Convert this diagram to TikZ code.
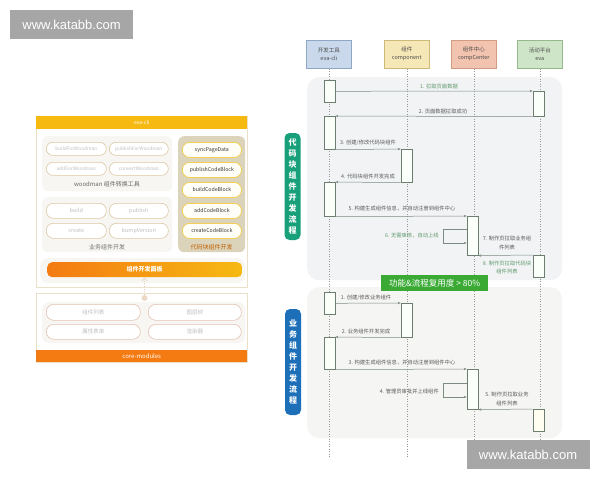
\documentclass[tikz,border=0pt]{standalone}
\usepackage{fontspec}
\setmainfont{Noto Sans CJK SC}
\newfontfamily\wmfont{Liberation Sans}
\usetikzlibrary{arrows.meta}
\newcommand\myfs[1]{\fontsize{#1}{#1}\selectfont}
\definecolor{wmgray}{HTML}{A6A6A6}
\definecolor{framec}{HTML}{EADFC8}
\definecolor{grpfill}{HTML}{F7F6F3}
\definecolor{tanbtn}{HTML}{DCC8A4}
\definecolor{cgfill}{HTML}{DCD3BB}
\definecolor{ybtn}{HTML}{F3CF55}
\definecolor{salbtn}{HTML}{E3C2B2}
\definecolor{evay}{HTML}{F6B912}
\definecolor{orng}{HTML}{F47A12}
\definecolor{reg1c}{HTML}{F2F3F5}
\definecolor{reg2c}{HTML}{F5F5F3}
\definecolor{actd}{HTML}{6D7D70}
\definecolor{msgc}{HTML}{7D8C80}
\definecolor{lblc}{HTML}{5A5A5A}
\definecolor{glblc}{HTML}{5F9A6C}
\definecolor{h1f}{HTML}{C9D8EA}\definecolor{h1d}{HTML}{8FA6C4}
\definecolor{h2f}{HTML}{F6E8B6}\definecolor{h2d}{HTML}{CDB978}
\definecolor{h3f}{HTML}{F2C3AE}\definecolor{h3d}{HTML}{D29B84}
\definecolor{h4f}{HTML}{CFE5C8}\definecolor{h4d}{HTML}{96B98D}
\definecolor{vgc}{HTML}{17A07A}
\definecolor{vbc}{HTML}{1D6FB8}
\definecolor{banc}{HTML}{3AAA35}
\begin{document}
\begin{tikzpicture}[x=1pt,y=-1pt,
  wm/.style={fill=wmgray,text=white,font=\wmfont\myfs{13},inner sep=0,minimum width=123pt,minimum height=29pt},
  nw/.style={anchor=north west,inner sep=0},
  grp/.style={nw,fill=grpfill,rounded corners=6pt},
  wbtn/.style={nw,draw=tanbtn,fill=white,rounded corners=6.5pt,line width=.6pt,text=black!25,minimum width=60pt,minimum height=13pt,font=\myfs{4.8}},
  bbtn/.style={wbtn,minimum height=15pt,rounded corners=7pt,font=\myfs{5.5}},
  cbtn/.style={nw,draw=ybtn,fill=yellow!3,line width=.8pt,rounded corners=7pt,minimum width=59pt,minimum height=15pt,text=black!80,font=\myfs{5.2}},
  mbtn/.style={nw,draw=salbtn,fill=white,line width=.6pt,rounded corners=7.5pt,minimum width=94pt,minimum height=16pt,text=black!25,font=\myfs{5.5}},
  hdr/.style={nw,draw,line width=.6pt,minimum width=45pt,minimum height=28pt,align=center,font=\fontsize{5.5}{8}\selectfont,text=black!70},
  act/.style={anchor=north,draw=actd,fill=green!2,line width=.6pt,minimum width=11pt,inner sep=0},
  msg/.style={draw=msgc,line width=.5pt,-{Stealth[length=3pt,width=2.4pt]}},
  lifeline/.style={draw=black!40,dotted,line width=.5pt},
  lbl/.style={text=lblc,font=\myfs{5.3},inner sep=0},
  glbl/.style={lbl,text=glblc},
  vlab/.style={rounded corners=5pt,text=white,font=\bfseries\fontsize{8}{11}\selectfont,align=center,minimum width=16pt,inner sep=0}
]
\useasboundingbox[fill=white] (0,0) rectangle (600,480);
% watermarks
\node[wm] (wm1) at (71.5,24.5) {www.katabb.com};
% ---------- left panel ----------
\node[nw,draw=framec,fill=white,line width=.8pt,minimum width=211pt,minimum height=171pt] (evaframe) at (36,116) {};
\node[nw,fill=evay,minimum width=211pt,minimum height=13pt,text=white,font=\myfs{5}] (evahead) at (36,116) {eva-cli};
\node[grp,minimum width=130pt,minimum height=55pt] (wgroup) at (42,136) {};
\node[wbtn] (b1) at (46,142) {buildForWoodman};
\node[wbtn,minimum width=59pt] (b2) at (109,142) {publishForWoodman};
\node[wbtn] (b3) at (46,162) {addForWoodman};
\node[wbtn,minimum width=59pt] (b4) at (109,162) {convertWoodman};
\node[text=black!60,font=\myfs{6},inner sep=0] (wlabel) at (107,184) {woodman 组件转换工具};
\node[grp,minimum width=130pt,minimum height=55pt] (bgroup) at (42,197) {};
\node[bbtn] (b5) at (46,203) {build};
\node[bbtn,minimum width=59pt] (b6) at (109,203) {publish};
\node[bbtn] (b7) at (46,223) {create};
\node[bbtn,minimum width=59pt] (b8) at (109,223) {bumpVersion};
\node[text=black!55,font=\myfs{6},inner sep=0] (blabel) at (107,247) {业务组件开发};
\node[grp,fill=cgfill,minimum width=67pt,minimum height=116pt] (cgroup) at (178,136) {};
\node[cbtn] (c1b) at (182,142) {syncPageData};
\node[cbtn] (c2b) at (182,162) {publishCodeBlock};
\node[cbtn] (c3b) at (182,182) {buildCodeBlock};
\node[cbtn] (c4b) at (182,203) {addCodeBlock};
\node[cbtn] (c5b) at (182,223) {createCodeBlock};
\node[text=orange!75!black,font=\myfs{6},inner sep=0] (clabel) at (211.5,247) {代码块组件开发};
\node[grp,rounded corners=8pt,minimum width=205pt,minimum height=25pt] (prow) at (40,258) {};
\node[nw,rounded corners=5pt,left color=orng,right color=evay,minimum width=195pt,minimum height=15pt,text=white,font=\bfseries\myfs{6}] (panelbar) at (47,262) {组件开发面板};
\node[nw,draw=framec,fill=white,line width=.8pt,minimum width=211pt,minimum height=69pt] (coreframe) at (36,293) {};
\node[grp,rounded corners=7pt,minimum width=203pt,minimum height=41pt] (cinner) at (42,302) {};
\node[mbtn] (m1) at (46,304) {组件列表};
\node[mbtn,minimum width=93pt] (m2) at (148,304) {图层树};
\node[mbtn,minimum height=15pt] (m3) at (46,324) {属性表单};
\node[mbtn,minimum width=93pt,minimum height=15pt] (m4) at (148,324) {渲染器};
\node[nw,fill=orng,minimum width=211pt,minimum height=12pt,text=white,font=\myfs{6}] (corebar) at (36,350) {core-modules};
\node[circle,fill=brown!30!white,minimum size=6pt,inner sep=0] (dotc) at (144.5,298) {};
\draw[draw=brown!35!white,dotted,line width=.7pt,-{Straight Barb[length=3pt,width=5pt]}] (dotc.north) -- (dotc.north |- panelbar.south);
% ---------- right: sequence ----------
\node[nw,fill=reg1c,rounded corners=12pt,minimum width=255pt,minimum height=203pt] (reg1) at (307,77) {};
\node[nw,fill=reg2c,rounded corners=12pt,minimum width=255pt,minimum height=151pt] (reg2) at (307,287) {};
\node[hdr,fill=h1f,draw=h1d] (h1) at (306,40) {开发工具\\eva-cli};
\node[hdr,fill=h2f,draw=h2d] (h2) at (384,40) {组件\\component};
\node[hdr,fill=h3f,draw=h3d] (h3) at (451,40) {组件中心\\compCenter};
\node[hdr,fill=h4f,draw=h4d] (h4) at (517,40) {活动平台\\eva};
\coordinate (end1) at (329,457);
\foreach \h in {h1,h2,h3,h4} \draw[lifeline] (\h.south) -- (\h.south |- end1);
% activations section 1
\node[act,minimum height=22pt] (a1) at (329.5,80) {};
\node[act,minimum height=25pt] (e1) at (538.5,91) {};
\node[act,minimum height=33pt] (a2) at (329.5,116) {};
\node[act,minimum height=33pt] (p1) at (406.5,149) {};
\node[act,minimum height=34pt] (a3) at (329.5,182) {};
\node[act,minimum height=39pt] (cc1) at (472.5,216) {};
\node[act,minimum height=22pt] (e2) at (538.5,255) {};
% activations section 2
\node[act,minimum height=22pt] (a4) at (329.5,292) {};
\node[act,minimum height=34pt] (p2) at (406.5,303) {};
\node[act,minimum height=32pt] (a5) at (329.5,337) {};
\node[act,minimum height=40pt] (cc2) at (472.5,369) {};
\node[act,minimum height=22pt,fill=yellow!6] (e3) at (538.5,409) {};
% messages section 1
\draw[msg] (a1.east) -- (e1.north west);
\draw[msg] (e1.south west) -- (a2.north east);
\draw[msg] (a2.south east) -- (p1.north west);
\draw[msg] (p1.south west) -- (a3.north east);
\draw[msg] (a3.south east) -- (cc1.north west);
\draw[msg] ([yshift=-13pt]cc1.north west) -- ++(-23,0) -- ++(0,14) -- ([yshift=-27pt]cc1.north west);
\draw[msg] (e2.north west) -- (cc1.south east);
\node[glbl] (l1) at (439,86) {1. 拉取页面数据};
\node[lbl] (l2) at (443,111) {2. 页面数据拉取成功};
\node[lbl] (l3) at (368,143) {3. 创建/修改代码块组件};
\node[lbl] (l4) at (368,176) {4. 代码块组件开发完成};
\node[lbl] (l5) at (402,209) {5. 构建生成组件信息，并自动注册到组件中心};
\node[glbl,anchor=east] (l6) at (439,236) {6. 无需审核，自动上线};
\node[lbl,align=center,font=\fontsize{5.3}{9}\selectfont] (l7) at (507,242.5) {7. 制作页拉取业务组\\件列表};
\node[glbl,align=center,font=\fontsize{5.3}{8}\selectfont] (l8) at (507,267) {8. 制作页拉取代码块\\组件列表};
% messages section 2
\draw[msg] (a4.east) -- (p2.north west);
\draw[msg] (p2.south west) -- (a5.north east);
\draw[msg] (a5.south east) -- (cc2.north west);
\draw[msg] ([yshift=-14pt]cc2.north west) -- ++(-23,0) -- ++(0,14) -- ([yshift=-28pt]cc2.north west);
\draw[msg] (e3.north west) -- (cc2.south east);
\node[lbl] (s1) at (366,298) {1. 创建/修改业务组件};
\node[lbl] (s2) at (366,331) {2. 业务组件开发完成};
\node[lbl] (s3) at (402,363) {3. 构建生成组件信息，并自动注册到组件中心};
\node[lbl,anchor=east] (s4) at (439,391) {4. 管理员审批并上线组件};
\node[lbl,align=center,font=\fontsize{5.3}{9}\selectfont] (s5) at (507,398.5) {5. 制作页拉取业务\\组件列表};
% side labels and banner
\node[vlab,fill=vgc,minimum height=107pt] (vg) at (292.5,186.5) {代\\码\\块\\组\\件\\开\\发\\流\\程};
\node[vlab,fill=vbc,minimum height=106pt,font=\bfseries\fontsize{8}{11.1}\selectfont] (vb) at (293,362) {业\\务\\组\\件\\开\\发\\流\\程};
\node[nw,fill=banc,minimum width=107pt,minimum height=16pt,text=white,font=\myfs{8.5}] (banner) at (381,275) {功能\&流程复用度 > 80\%};
\node[wm] (wm2) at (528,454.5) {www.katabb.com};
\end{tikzpicture}
\end{document}
